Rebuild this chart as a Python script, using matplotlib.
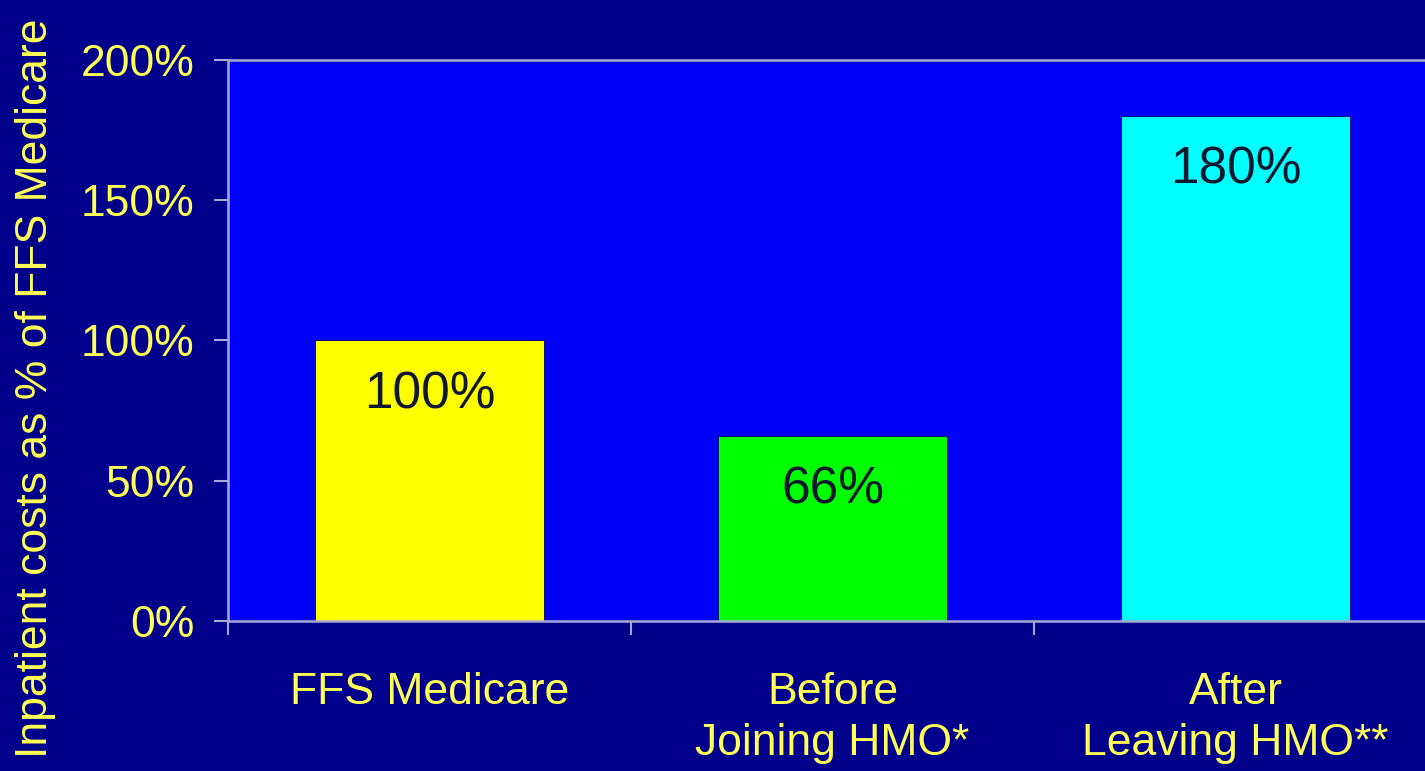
import matplotlib
matplotlib.use('Agg')
import matplotlib.pyplot as plt
import numpy as np

# dados
categorias = ['FFS Medicare', 'Before\nJoining HMO*', 'After\nLeaving HMO**']
valores = [100, 66, 180]
cores = ['#FFFF00', '#00FF00', '#00FFFF']
rotulos = ['100%', '66%', '180%']
yticks = [0, 50, 100, 150, 200]

plt.rcParams['font.family'] = ['Liberation Sans', 'DejaVu Sans']

fundo = '#00008A'
amarelo = '#FFFF55'
cinza = '#A8A8D8'

fig = plt.figure(figsize=(14.25, 7.71), dpi=100, facecolor=fundo)
ax = fig.add_axes([0.16, 0.1946, 0.8484, 0.7276])
ax.set_facecolor('#0000F8')

x = np.arange(len(categorias))
barras = ax.bar(x, valores, width=0.57, color=cores, edgecolor='#000060', linewidth=0.6, zorder=2)

# rotulos dentro das barras
for b, txt in zip(barras, rotulos):
    ax.annotate(txt, (b.get_x() + b.get_width() / 2, b.get_height()),
                xytext=(0, -39), textcoords='offset points',
                ha='center', va='center', fontsize=37, color='#101830', zorder=3)

ax.set_xlim(-0.5, 2.5)
ax.set_ylim(0, 200)
ax.set_yticks(yticks)
ax.set_yticklabels([f'{v}%' for v in yticks])
ax.set_xticks(x)
ax.set_xticklabels(categorias, linespacing=1.3)
ax.set_xticks([-0.5, 0.5, 1.5], minor=True)

ax.tick_params(axis='y', colors=cinza, labelcolor=amarelo, labelsize=32, length=10, width=1.5, pad=14)
ax.tick_params(axis='x', which='major', length=0, labelcolor=amarelo, labelsize=32, pad=37)
ax.tick_params(axis='x', which='minor', colors=cinza, length=10, width=1.5)

for s in ['top', 'left', 'bottom']:
    ax.spines[s].set_color(cinza)
    ax.spines[s].set_linewidth(1.8)
ax.spines['right'].set_visible(False)

fig.text(0.025, 0.497, 'Inpatient costs as % of FFS Medicare', rotation=90,
         ha='center', va='center', fontsize=32, color=amarelo)

fig.savefig('out.png', dpi=100, facecolor=fundo)
